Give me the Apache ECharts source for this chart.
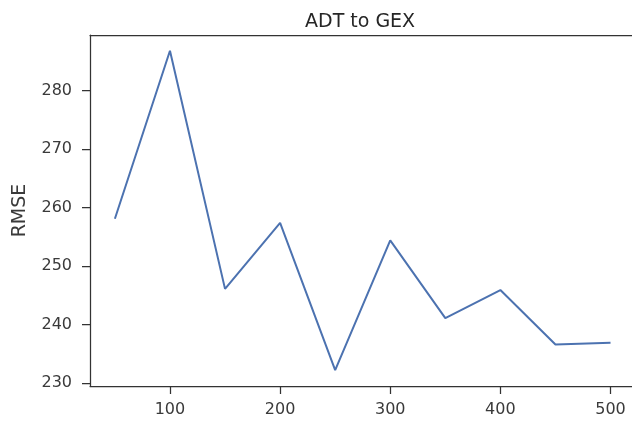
<!DOCTYPE html>
<html>
<head>
<meta charset="utf-8">
<script src="https://cdn.jsdelivr.net/npm/echarts@6/dist/echarts.min.js"></script>
<style>
  html, body { margin: 0; padding: 0; background: #fff; }
  #chart { width: 632px; height: 421px; }
</style>
</head>
<body>
<div id="chart"></div>
<script>
// Number of components vs. reconstruction error
const components = [50, 100, 150, 200, 250, 300, 350, 400, 450, 500];
const rmse = [258.1, 286.8, 246.1, 257.4, 232.2, 254.4, 241.1, 245.9, 236.6, 236.9];
const xTicks = [100, 200, 300, 400, 500];
const yTicks = [230, 240, 250, 260, 270, 280];

const axisColor = '#333333';
const textColor = '#3a3a3a';
const font = 'DejaVu Sans';
const spine = { show: true, lineStyle: { color: axisColor, width: 1.25 } };

const chart = echarts.init(document.getElementById('chart'), null, { renderer: 'canvas' });
chart.setOption({
  animation: false,
  backgroundColor: '#ffffff',
  title: {
    text: 'ADT to GEX',
    left: 300,
    top: 8,
    textStyle: { fontFamily: font, fontSize: 19, fontWeight: 'normal', color: '#262626' }
  },
  grid: { left: 90, top: 35, right: 0, bottom: 35 },
  xAxis: [{
    type: 'value',
    min: 27.4,
    max: 519.5,
    splitLine: { show: false },
    axisLine: spine,
    axisTick: { show: true, length: 8, lineStyle: { color: axisColor, width: 1.25 }, customValues: xTicks },
    axisLabel: { margin: 16, color: textColor, fontFamily: font, fontSize: 16, customValues: xTicks }
  }, {
    // top spine only
    type: 'value',
    position: 'top',
    min: 27.4,
    max: 519.5,
    splitLine: { show: false },
    axisLine: spine,
    axisTick: { show: false },
    axisLabel: { show: false }
  }],
  yAxis: {
    type: 'value',
    min: 229.5,
    max: 289.5,
    name: 'RMSE',
    nameLocation: 'middle',
    nameGap: 60,
    nameTextStyle: { fontFamily: font, fontSize: 19, color: textColor },
    splitLine: { show: false },
    axisLine: spine,
    axisTick: { show: true, length: 8, lineStyle: { color: axisColor, width: 1.25 }, customValues: yTicks },
    axisLabel: { margin: 18, color: textColor, fontFamily: font, fontSize: 16, customValues: yTicks }
  },
  series: [{
    type: 'line',
    xAxisIndex: 0,
    data: components.map((c, i) => [c, rmse[i]]),
    showSymbol: false,
    lineStyle: { color: '#4c72b0', width: 2 },
    itemStyle: { color: '#4c72b0' }
  }]
});
</script>
</body>
</html>
